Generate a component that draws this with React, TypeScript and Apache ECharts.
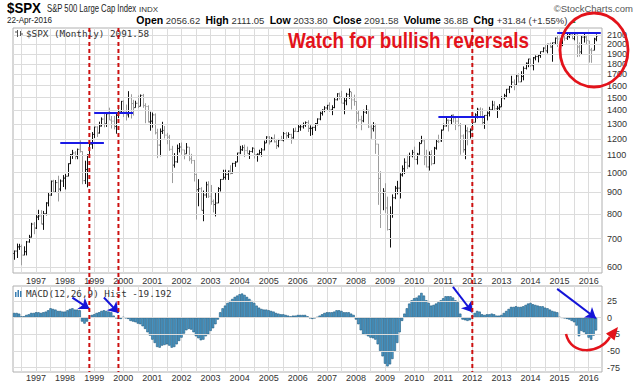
import { useEffect, useRef } from 'react';
import * as echarts from 'echarts';

// ---- Monthly S&P 500 bars, Apr 1996 .. Apr 2016 ----
const opens = [
  645.5, 654.2, 669.1, 670.6, 640.0, 652.0, 687.3, 705.3, 757.0,
  740.7, 786.2, 790.8, 757.1, 801.3, 848.3, 885.1, 954.3, 899.5, 947.3, 914.6, 955.4,
  970.4, 980.3, 1049.3, 1101.8, 1111.8, 1090.8, 1133.8, 1120.7, 957.3, 1017.0, 1098.7, 1163.6,
  1229.2, 1279.6, 1238.3, 1286.4, 1335.2, 1301.8, 1372.7, 1328.7, 1320.4, 1282.7, 1362.9, 1388.9,
  1469.3, 1394.5, 1366.4, 1498.6, 1452.4, 1420.6, 1454.6, 1430.8, 1517.7, 1436.5, 1429.4, 1315.0,
  1320.3, 1366.0, 1239.9, 1160.3, 1249.5, 1255.8, 1224.4, 1211.2, 1133.6, 1040.9, 1059.8, 1139.5,
  1148.1, 1130.2, 1106.7, 1147.4, 1076.9, 1067.1, 989.8, 911.6, 916.1, 815.3, 885.8, 936.3,
  879.8, 855.7, 841.2, 848.2, 916.9, 963.6, 974.5, 990.3, 1008.0, 996.0, 1050.7, 1058.2,
  1111.9, 1131.1, 1144.9, 1126.2, 1107.3, 1120.7, 1140.8, 1101.7, 1104.2, 1114.6, 1130.2, 1173.8,
  1211.9, 1181.3, 1203.6, 1180.6, 1156.9, 1191.5, 1191.3, 1234.2, 1220.3, 1228.8, 1207.0, 1249.5,
  1248.3, 1280.1, 1280.7, 1294.8, 1310.6, 1270.1, 1270.2, 1276.7, 1303.8, 1335.9, 1377.9, 1400.6,
  1418.3, 1438.2, 1406.8, 1420.9, 1482.4, 1530.6, 1503.4, 1455.3, 1474.0, 1526.8, 1545.8, 1481.1,
  1468.4, 1378.6, 1330.6, 1322.7, 1385.6, 1400.4, 1280.0, 1267.4, 1282.8, 1166.4, 968.8, 896.2,
  903.3, 825.9, 735.1, 797.9, 872.8, 919.1, 919.3, 987.5, 1020.6, 1057.1, 1036.2, 1095.6,
  1115.1, 1073.9, 1104.5, 1169.4, 1186.7, 1089.4, 1030.7, 1101.6, 1049.3, 1141.2, 1183.3, 1186.6,
  1257.6, 1286.1, 1327.2, 1325.8, 1363.6, 1345.2, 1320.6, 1292.3, 1218.9, 1131.4, 1253.3, 1247.0,
  1257.6, 1312.4, 1365.7, 1408.5, 1397.9, 1310.3, 1362.2, 1379.3, 1406.6, 1440.7, 1412.2, 1416.2,
  1426.2, 1498.1, 1514.7, 1569.2, 1597.6, 1630.7, 1606.3, 1685.7, 1633.0, 1681.6, 1756.5, 1805.8,
  1848.4, 1782.6, 1859.5, 1872.3, 1884.0, 1923.6, 1960.2, 1930.7, 2003.4, 1972.3, 2018.1, 2067.6,
  2058.9, 1995.0, 2104.5, 2067.9, 2085.5, 2107.4, 2063.1, 2103.8, 1972.2, 1920.0, 2079.4, 2080.4,
  2038.2, 1940.2, 1937.1, 2056.6,
];
const highs = [
  656.0, 681.1, 680.3, 677.5, 671.1, 690.9, 714.1, 762.1, 765.2,
  794.7, 817.7, 816.3, 812.9, 851.9, 898.7, 957.7, 961.6, 960.3, 983.1, 963.4, 986.3,
  992.7, 1051.0, 1105.7, 1130.5, 1123.0, 1138.5, 1190.6, 1121.7, 1066.1, 1103.8, 1193.0, 1244.9,
  1280.3, 1283.8, 1316.6, 1347.8, 1376.0, 1372.9, 1420.3, 1357.7, 1358.0, 1373.2, 1407.4, 1473.1,
  1478.0, 1444.6, 1552.9, 1527.2, 1481.5, 1474.6, 1517.3, 1525.2, 1530.1, 1454.8, 1438.5, 1389.1,
  1383.4, 1376.9, 1267.4, 1269.3, 1315.9, 1286.6, 1239.8, 1226.3, 1155.4, 1110.6, 1163.4, 1173.0,
  1176.6, 1130.2, 1173.0, 1147.8, 1106.6, 1070.7, 994.5, 965.0, 924.0, 907.4, 951.6, 954.3,
  935.1, 864.6, 895.9, 924.2, 965.4, 1015.3, 1015.4, 1011.0, 1040.3, 1053.8, 1063.6, 1112.6,
  1155.4, 1159.0, 1163.2, 1150.6, 1127.7, 1146.3, 1140.8, 1109.7, 1131.5, 1142.1, 1188.5, 1217.3,
  1217.8, 1212.4, 1229.1, 1191.9, 1199.6, 1219.6, 1245.2, 1245.9, 1243.1, 1233.3, 1270.6, 1275.8,
  1294.9, 1297.6, 1310.9, 1318.2, 1326.7, 1290.7, 1280.4, 1306.7, 1340.3, 1389.5, 1407.9, 1431.8,
  1441.6, 1461.6, 1438.9, 1498.0, 1535.6, 1540.6, 1555.9, 1503.9, 1538.7, 1576.1, 1545.8, 1523.6,
  1471.8, 1396.0, 1359.7, 1404.6, 1440.2, 1404.1, 1292.2, 1313.2, 1303.0, 1167.0, 1007.5, 918.9,
  943.9, 877.9, 833.0, 888.7, 930.2, 956.2, 996.7, 1039.5, 1080.2, 1101.4, 1113.7, 1130.4,
  1150.5, 1112.4, 1180.2, 1219.8, 1200.0, 1131.2, 1120.9, 1129.2, 1148.9, 1196.1, 1227.1, 1262.6,
  1302.7, 1344.1, 1332.3, 1364.6, 1370.6, 1345.2, 1356.5, 1307.4, 1229.3, 1292.7, 1277.6, 1269.4,
  1333.5, 1378.0, 1419.2, 1422.4, 1415.3, 1363.5, 1391.7, 1426.7, 1474.5, 1471.0, 1434.3, 1448.0,
  1509.9, 1530.9, 1570.3, 1597.6, 1687.2, 1654.2, 1698.8, 1709.7, 1729.9, 1775.2, 1813.6, 1849.4,
  1850.8, 1867.9, 1884.0, 1897.3, 1924.0, 1968.2, 1991.4, 2005.0, 2019.3, 2018.2, 2075.8, 2093.6,
  2072.4, 2119.6, 2117.5, 2125.9, 2134.7, 2129.9, 2132.8, 2112.7, 2020.9, 2094.3, 2116.5, 2104.3,
  2038.2, 1963.0, 2072.2, 2111.1,
];
const lows = [
  624.1, 630.1, 658.3, 605.9, 639.7, 639.0, 684.5, 703.8, 716.7,
  737.0, 773.4, 756.1, 733.5, 793.2, 833.0, 882.3, 897.8, 896.6, 855.3, 903.7, 924.9,
  912.8, 980.3, 1046.8, 1076.7, 1074.4, 1074.7, 1114.3, 939.0, 939.8, 923.3, 1086.9, 1136.9,
  1205.5, 1211.9, 1234.7, 1282.8, 1277.3, 1279.7, 1328.5, 1268.7, 1263.0, 1233.7, 1342.4, 1387.4,
  1350.1, 1325.1, 1346.6, 1339.4, 1361.1, 1420.6, 1416.5, 1430.8, 1419.4, 1305.8, 1311.2, 1254.1,
  1274.6, 1228.9, 1081.2, 1092.0, 1232.0, 1203.0, 1165.5, 1124.9, 944.8, 1026.8, 1054.3, 1114.9,
  1101.4, 1074.4, 1106.7, 1063.5, 1049.0, 952.9, 775.7, 833.4, 815.3, 768.6, 872.2, 871.8,
  840.3, 806.3, 788.9, 847.9, 902.8, 963.6, 962.1, 960.8, 990.4, 996.0, 1031.2, 1058.2,
  1105.1, 1124.4, 1087.2, 1107.2, 1076.3, 1113.3, 1078.8, 1060.7, 1101.3, 1090.2, 1127.6, 1173.8,
  1163.8, 1180.9, 1176.9, 1136.2, 1146.2, 1188.3, 1183.6, 1201.1, 1205.4, 1168.2, 1201.1, 1246.6,
  1245.7, 1253.6, 1268.4, 1280.7, 1245.3, 1219.3, 1224.5, 1252.9, 1290.9, 1326.9, 1361.0, 1385.9,
  1404.0, 1389.4, 1364.0, 1416.4, 1476.7, 1484.2, 1454.3, 1370.6, 1439.3, 1489.6, 1406.1, 1435.7,
  1270.1, 1316.8, 1257.0, 1312.6, 1373.1, 1272.0, 1200.4, 1248.5, 1106.4, 839.8, 741.0, 815.7,
  804.2, 731.1, 666.8, 783.3, 866.1, 888.9, 869.3, 978.5, 992.0, 1020.0, 1029.4, 1085.9,
  1071.6, 1044.5, 1101.4, 1169.4, 1040.8, 1028.3, 1010.9, 1039.7, 1048.2, 1131.9, 1173.0, 1180.6,
  1257.6, 1282.9, 1249.1, 1294.7, 1311.8, 1258.1, 1282.9, 1101.5, 1114.2, 1074.8, 1158.7, 1202.4,
  1257.6, 1312.4, 1340.0, 1357.4, 1292.0, 1266.7, 1325.4, 1354.7, 1396.6, 1403.3, 1343.4, 1398.1,
  1426.2, 1485.0, 1501.5, 1536.0, 1581.3, 1560.3, 1604.6, 1627.5, 1633.0, 1646.5, 1746.2, 1768.0,
  1770.5, 1737.9, 1834.4, 1814.4, 1859.8, 1916.0, 1930.7, 1904.8, 1964.0, 1820.7, 2001.0, 1972.6,
  1988.1, 1980.9, 2039.7, 2048.4, 2067.9, 2056.3, 2044.0, 1867.0, 1871.9, 1893.7, 2019.4, 1993.3,
  1812.3, 1810.1, 1937.1, 2033.8,
];
const closes = [
  654.2, 669.1, 670.6, 640.0, 652.0, 687.3, 705.3, 757.0, 740.7,
  786.2, 790.8, 757.1, 801.3, 848.3, 885.1, 954.3, 899.5, 947.3, 914.6, 955.4, 970.4,
  980.3, 1049.3, 1101.8, 1111.8, 1090.8, 1133.8, 1120.7, 957.3, 1017.0, 1098.7, 1163.6, 1229.2,
  1279.6, 1238.3, 1286.4, 1335.2, 1301.8, 1372.7, 1328.7, 1320.4, 1282.7, 1362.9, 1388.9, 1469.3,
  1394.5, 1366.4, 1498.6, 1452.4, 1420.6, 1454.6, 1430.8, 1517.7, 1436.5, 1429.4, 1315.0, 1320.3,
  1366.0, 1239.9, 1160.3, 1249.5, 1255.8, 1224.4, 1211.2, 1133.6, 1040.9, 1059.8, 1139.5, 1148.1,
  1130.2, 1106.7, 1147.4, 1076.9, 1067.1, 989.8, 911.6, 916.1, 815.3, 885.8, 936.3, 879.8,
  855.7, 841.2, 848.2, 916.9, 963.6, 974.5, 990.3, 1008.0, 996.0, 1050.7, 1058.2, 1111.9,
  1131.1, 1144.9, 1126.2, 1107.3, 1120.7, 1140.8, 1101.7, 1104.2, 1114.6, 1130.2, 1173.8, 1211.9,
  1181.3, 1203.6, 1180.6, 1156.9, 1191.5, 1191.3, 1234.2, 1220.3, 1228.8, 1207.0, 1249.5, 1248.3,
  1280.1, 1280.7, 1294.8, 1310.6, 1270.1, 1270.2, 1276.7, 1303.8, 1335.9, 1377.9, 1400.6, 1418.3,
  1438.2, 1406.8, 1420.9, 1482.4, 1530.6, 1503.4, 1455.3, 1474.0, 1526.8, 1549.4, 1481.1, 1468.4,
  1378.6, 1330.6, 1322.7, 1385.6, 1400.4, 1280.0, 1267.4, 1282.8, 1166.4, 968.8, 896.2, 903.3,
  825.9, 735.1, 797.9, 872.8, 919.1, 919.3, 987.5, 1020.6, 1057.1, 1036.2, 1095.6, 1115.1,
  1073.9, 1104.5, 1169.4, 1186.7, 1089.4, 1030.7, 1101.6, 1049.3, 1141.2, 1183.3, 1180.6, 1257.6,
  1286.1, 1327.2, 1325.8, 1363.6, 1345.2, 1320.6, 1292.3, 1218.9, 1131.4, 1253.3, 1247.0, 1257.6,
  1312.4, 1365.7, 1408.5, 1397.9, 1310.3, 1362.2, 1379.3, 1406.6, 1440.7, 1412.2, 1416.2, 1426.2,
  1498.1, 1514.7, 1569.2, 1597.6, 1630.7, 1606.3, 1685.7, 1633.0, 1681.6, 1756.5, 1805.8, 1848.4,
  1782.6, 1859.5, 1872.3, 1884.0, 1923.6, 1960.2, 1930.7, 2003.4, 1972.3, 2018.1, 2067.6, 2058.9,
  1995.0, 2104.5, 2067.9, 2085.5, 2107.4, 2063.1, 2103.8, 1972.2, 1920.0, 2079.4, 2080.4, 2043.9,
  1940.2, 1932.2, 2059.7, 2091.6,
];
// MACD(12,26,9) panel values, Apr 1996 .. Apr 2016
const macdHist = [
  7, 7, 6, 2, 2, 4, 5, 7, 7,
  8, 8, 7, 8, 9, 11, 14, 13, 12, 10, 10, 9,
  9, 11, 13, 14, 12, 12, 11, -6, -9, -6, 0, 4,
  5, 7, 8, 10, 11, 10, 9, 8, 3, -1, -2, -2,
  1, -1, -2, -5, -6, -7, -9, -10, -13, -17, -22, -27,
  -33, -38, -44, -45, -42, -41, -40, -42, -45, -44, -40, -35,
  -30, -24, -19, -17, -18, -22, -28, -31, -34, -33, -28, -25,
  -20, -16, -10, -3, 8, 14, 18, 22, 25, 28, 31, 33,
  35, 36, 34, 31, 28, 25, 22, 18, 15, 13, 12, 12,
  11, 10, 9, 7, 6, 5, 5, 4, 3, 2, 3, 3,
  4, 4, 4, 4, 2, -1, -2, -1, 1, 3, 5, 7,
  8, 8, 8, 9, 11, 11, 10, 8, 8, 8, 6, 4,
  -3, -10, -19, -25, -26, -28, -30, -31, -33, -40, -50, -58,
  -69, -73, -70, -62, -50, -38, -22, -5, 6, 14, 21, 26,
  29, 30, 33, 37, 33, 26, 22, 18, 19, 21, 23, 26,
  29, 32, 32, 32, 30, 26, 23, 6, -3, -4, -5, -4,
  3, 7, 10, 9, 5, 4, 5, 5, 6, 5, 3, 3,
  4, 7, 10, 13, 16, 16, 17, 16, 16, 17, 19, 21,
  22, 20, 19, 18, 17, 17, 15, 14, 12, 10, 9, 8,
  1, 0, -1, -2, -3, -5, -7, -12, -28, -20, -22, -25,
  -30, -33, -27, -19.192,
];

const priceTicks = [600, 700, 800, 900, 1000, 1100, 1200, 1300, 1400, 1500, 1600, 1700, 1800, 1900, 2000, 2100];
const macdTicks = [25, 0, -25, -50, -75];

// annotations (in data terms)
const resistanceFrom = ['1997-11', '1999-01', '2010-11', '2014-12'];
const resistanceTo = ['1999-05', '2000-05', '2012-06', '2016-06'];
const resistanceLevel = [1175, 1384, 1355, 2133];
const signalMonths = ['1998-11', '1999-11', '2012-01'];
const arrowFromMonth = ['1998-04', '1999-05', '2011-05', '2014-12'];
const arrowFromValue = [30, 30, 46, 43];
const arrowToMonth = ['1998-11', '1999-11', '2012-01', '2016-04'];
const arrowToValue = [13, 7, 8, -1];

// category months (Apr 1996 + 2 empty months after the last bar)
const START_YEAR = 1996;
const START_MONTH = 4;
const PAD_MONTHS = 2;
const months: string[] = [];
for (let i = 0; i < closes.length + PAD_MONTHS; i++) {
  const m0 = START_MONTH - 1 + i;
  const y = START_YEAR + Math.floor(m0 / 12);
  const m = (m0 % 12) + 1;
  months.push(`${y}-${m < 10 ? '0' + m : m}`);
}

const FONT = '"Liberation Sans", Arial, sans-serif';
const MONO = '"DejaVu Sans Mono", monospace';
const L = { left: 13, right: 38, priceTop: 28, priceH: 245, macdTop: 286, macdH: 86 };

function carrier(xi: number, yi: number, data: number[], z: number, markLine: any) {
  return {
    type: 'line', xAxisIndex: xi, yAxisIndex: yi, data, symbol: 'none', showSymbol: false,
    lineStyle: { opacity: 0 }, silent: true, z, clip: false,
    markLine: { silent: true, animation: false, ...markLine },
  };
}

function txt(text: string, x: number, y: number, o: any = {}) {
  return {
    type: 'text', x, y, z: 100, silent: true, scaleX: o.scaleX ?? 1,
    style: {
      text, fontSize: o.size ?? 9, fontFamily: o.family ?? FONT, fontWeight: o.weight ?? 'normal',
      fill: o.fill ?? '#222', align: o.align ?? 'left', textAlign: o.align ?? 'left',
      verticalAlign: 'middle', textVerticalAlign: 'middle', rich: o.rich,
    },
  };
}

export default function App() {
  const ref = useRef<HTMLDivElement>(null);
  useEffect(() => {
    const chart = echarts.init(ref.current!, null, { renderer: 'svg' });
    const ohlc = closes.map((c, i) => [i, opens[i], c, lows[i], highs[i]]);
    const xAxisBase = (g: number) => ({
      type: 'category', gridIndex: g, data: months, boundaryGap: true,
      axisLine: { show: false }, axisTick: { show: false },
      axisLabel: {
        interval: (_i: number, v: string) => v.endsWith('-01'),
        formatter: (v: string) => v.slice(0, 4),
        fontSize: 9, color: '#333', fontFamily: FONT, margin: g === 0 ? 3 : 1,
      },
      splitLine: {
        show: true, alignWithLabel: true,
        interval: (_i: number, v: string) => v.endsWith('-01') || v.endsWith('-07'),
        lineStyle: { color: '#dcdcdc', width: 1 },
      },
    });
    const hiddenY = { axisLabel: { show: false }, axisLine: { show: false }, axisTick: { show: false }, splitLine: { show: false } };
    const gridLabel = { show: true, position: 'end', distance: 5, formatter: (p: any) => String(p.value), color: '#333', fontSize: 9, fontFamily: FONT };

    const option: any = {
      animation: false,
      backgroundColor: '#ffffff',
      grid: [
        { left: L.left, right: L.right, top: L.priceTop, height: L.priceH, show: true, borderColor: '#b0b0b0', borderWidth: 1 },
        { left: L.left, right: L.right, top: L.macdTop, height: L.macdH, show: true, borderColor: '#b0b0b0', borderWidth: 1 },
      ],
      xAxis: [xAxisBase(0), xAxisBase(1)],
      yAxis: [
        { type: 'log', gridIndex: 0, min: 581, max: 2185, position: 'right', ...hiddenY },
        { type: 'value', gridIndex: 1, min: -81.4, max: 47.3, position: 'right', ...hiddenY },
      ],
      series: [
        carrier(0, 0, closes, 1, {
          symbol: ['none', 'none'], lineStyle: { color: '#dcdcdc', width: 1, type: 'solid' }, label: gridLabel,
          data: priceTicks.map((v) => ({ yAxis: v })),
        }),
        {
          type: 'custom', xAxisIndex: 0, yAxisIndex: 0, z: 3, silent: true, clip: false,
          data: ohlc, encode: { x: 0, y: [1, 2, 3, 4] },
          renderItem: (_params: any, api: any) => {
            const x = api.value(0);
            const o = api.coord([x, api.value(1)]);
            const c = api.coord([x, api.value(2)]);
            const lo = api.coord([x, api.value(3)]);
            const hi = api.coord([x, api.value(4)]);
            const w = api.size([1, 0])[0];
            const t = Math.max(1, w * 0.45);
            const up = api.value(2) >= api.value(1);
            const color = up ? '#111111' : '#9c9c9c';
            const cx = Math.round(hi[0]) + 0.5;
            const st = { stroke: color, lineWidth: 1 };
            return {
              type: 'group',
              children: [
                { type: 'line', shape: { x1: cx, y1: hi[1], x2: cx, y2: lo[1] }, style: st },
                { type: 'line', shape: { x1: cx - t, y1: o[1], x2: cx, y2: o[1] }, style: st },
                { type: 'line', shape: { x1: cx, y1: c[1], x2: cx + t, y2: c[1] }, style: st },
              ],
            };
          },
        },
        carrier(0, 0, closes, 5, {
          symbol: ['none', 'none'], lineStyle: { color: '#1a1ae6', width: 2, type: 'solid' }, label: { show: false },
          data: resistanceLevel.map((lv, i) => [{ coord: [resistanceFrom[i], lv] }, { coord: [resistanceTo[i], lv] }]),
        }),
        carrier(1, 1, macdHist, 1, {
          symbol: ['none', 'none'], lineStyle: { color: '#dcdcdc', width: 1, type: 'solid' }, label: gridLabel,
          data: macdTicks.map((v) => ({ yAxis: v })),
        }),
        {
          type: 'bar', xAxisIndex: 1, yAxisIndex: 1, data: macdHist, z: 3, silent: true,
          barWidth: '100%', barCategoryGap: '0%',
          itemStyle: { color: '#4c9ccb', borderColor: '#1d587c', borderWidth: 0.6 },
        },
        carrier(1, 1, macdHist, 10, {
          symbol: ['none', 'arrow'], symbolSize: 10,
          lineStyle: { color: '#1414d8', width: 2, type: 'solid' }, label: { show: false },
          data: arrowFromMonth.map((m, i) => [
            { coord: [m, arrowFromValue[i]] },
            { coord: [arrowToMonth[i], arrowToValue[i]] },
          ]),
        }),
      ],
    };
    chart.setOption(option);

    const top = L.priceTop;
    const bottom = L.macdTop + L.macdH;
    const dashed = signalMonths.map((m) => {
      const x = chart.convertToPixel({ xAxisIndex: 0 } as any, m) as number;
      return {
        type: 'line', z: 100, silent: true,
        shape: { x1: x, y1: top, x2: x, y2: bottom },
        style: { stroke: '#cc1010', lineWidth: 2, lineDash: [4, 3] },
      };
    });

    const graphics: any[] = [
      txt('$SPX', 7, 8, { size: 14, weight: 'bold', scaleX: 0.95, fill: '#000' }),
      txt('S&P 500 Large Cap Index', 47, 8.5, { size: 10, scaleX: 0.77, fill: '#222' }),
      txt('INDX', 139, 9, { size: 8, fill: '#333' }),
      txt('22-Apr-2016', 7, 20, { size: 9, scaleX: 0.9, fill: '#222' }),
      txt('{b|Open} 2056.62  {b|High} 2111.05  {b|Low} 2033.80  {b|Close} 2091.58  {b|Volume} 36.8B  {b|Chg} +31.84 (+1.55%) {g|▲}', 577, 20, {
        size: 9.5, align: 'right', fill: '#333',
        rich: {
          b: { fontWeight: 'bold', fontSize: 10.5, fontFamily: FONT, fill: '#000' },
          g: { fontSize: 7, fill: '#2a8a2a', fontFamily: FONT },
        },
      }),
      txt('©StockCharts.com', 633, 8, { size: 9.5, align: 'right', fill: '#555' }),
      // price panel legend
      { type: 'line', z: 100, silent: true, shape: { x1: 17.5, y1: 30, x2: 17.5, y2: 37 }, style: { stroke: '#555', lineWidth: 1 } },
      { type: 'line', z: 100, silent: true, shape: { x1: 15, y1: 32, x2: 17.5, y2: 32 }, style: { stroke: '#555', lineWidth: 1 } },
      { type: 'line', z: 100, silent: true, shape: { x1: 20.5, y1: 31, x2: 20.5, y2: 36 }, style: { stroke: '#555', lineWidth: 1 } },
      { type: 'line', z: 100, silent: true, shape: { x1: 20.5, y1: 34, x2: 23, y2: 34 }, style: { stroke: '#555', lineWidth: 1 } },
      txt('$SPX (Monthly) 2091.58', 26, 33.5, { size: 9.3, family: MONO, fill: '#333' }),
      // MACD legend
      { type: 'rect', z: 100, silent: true, shape: { x: 15, y: 292, width: 1.5, height: 5 }, style: { fill: '#3a7fb2' } },
      { type: 'rect', z: 100, silent: true, shape: { x: 17.5, y: 290, width: 1.5, height: 7 }, style: { fill: '#3a7fb2' } },
      { type: 'rect', z: 100, silent: true, shape: { x: 20, y: 291, width: 1.5, height: 6 }, style: { fill: '#3a7fb2' } },
      txt('MACD(12,26,9) Hist -19.192', 26, 293.5, { size: 9.3, family: MONO, fill: '#333' }),
      // headline
      txt('Watch for bullish reversals', 288, 40, { size: 22, weight: 'bold', scaleX: 0.86, fill: '#e3131b' }),
      // red circle
      { type: 'ellipse', z: 101, silent: true, shape: { cx: 594, cy: 50, rx: 34, ry: 37 }, style: { fill: 'none', stroke: '#e3131b', lineWidth: 2.8 } },
      // red curved arrow
      { type: 'bezierCurve', z: 101, silent: true, shape: { x1: 566, y1: 334, x2: 610, y2: 337, cpx1: 571, cpy1: 356, cpx2: 600, cpy2: 354 }, style: { fill: 'none', stroke: '#e3131b', lineWidth: 2.5 } },
      { type: 'polygon', z: 101, silent: true, shape: { points: [[618, 327], [606, 333.5], [614.5, 340.5]] }, style: { fill: '#e3131b' } },
      ...dashed,
    ];
    chart.setOption({ graphic: { elements: graphics } });

    return () => chart.dispose();
  }, []);
  return <div ref={ref} style={{ position: 'absolute', left: 0, top: 0, width: 640, height: 386 }} />;
}
